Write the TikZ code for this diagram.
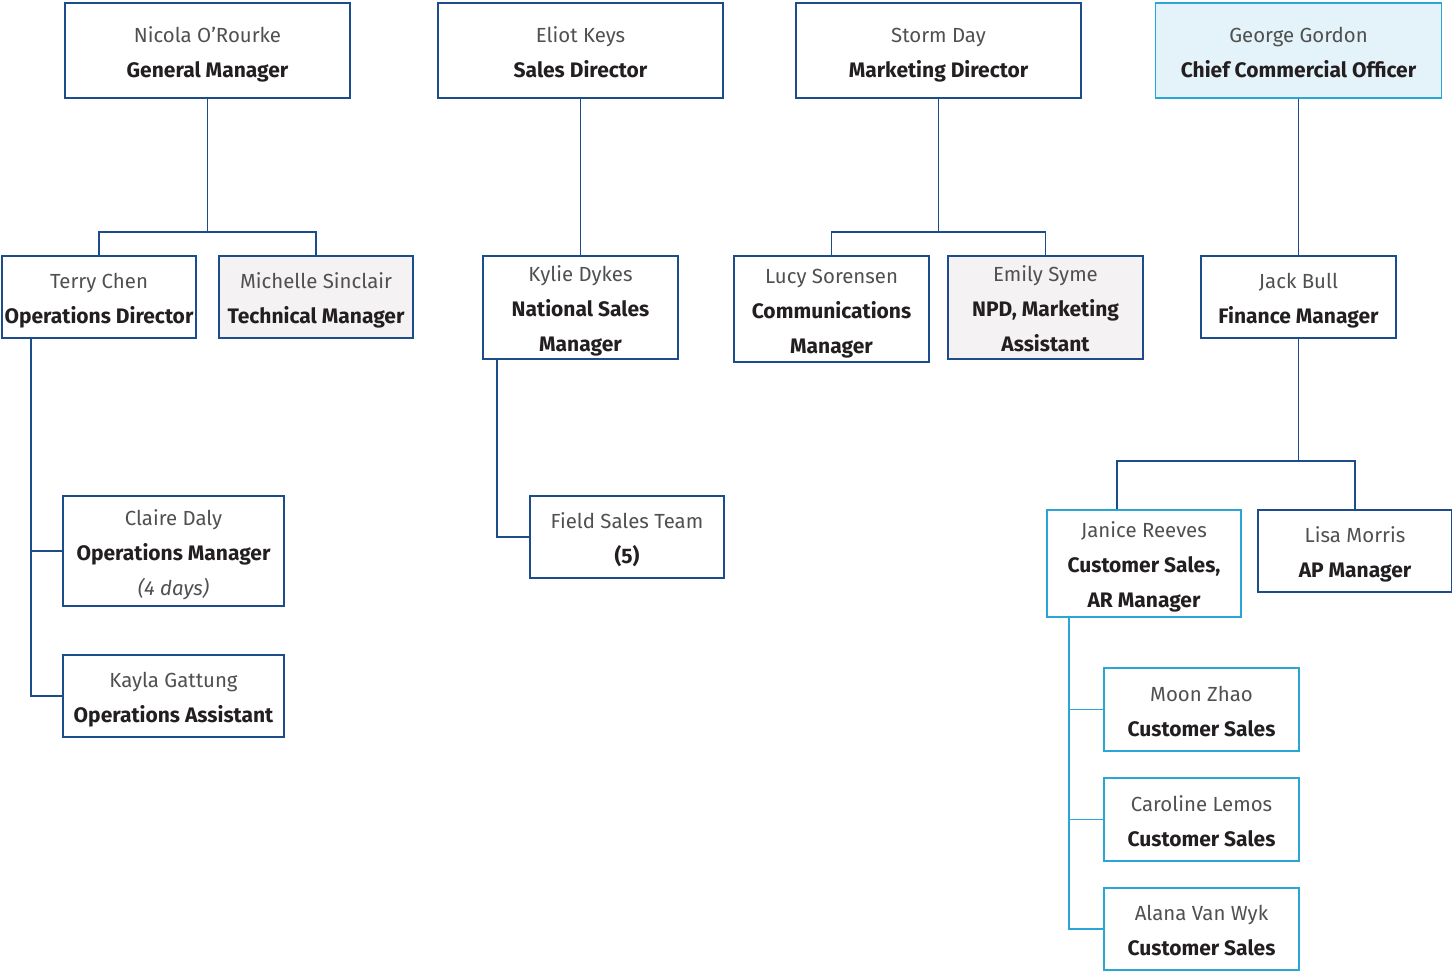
\documentclass[tikz,border=0pt]{standalone}
\usepackage{fontspec}
\setmainfont{Fira Sans}
\usetikzlibrary{positioning,calc}
\definecolor{orgblue}{RGB}{28,76,138}
\definecolor{orgcyan}{RGB}{42,166,214}
\definecolor{ccofill}{RGB}{228,242,249}
\definecolor{greyfill}{RGB}{244,242,243}
\definecolor{namegrey}{RGB}{80,80,80}
\definecolor{jobblack}{RGB}{35,31,32}
\newcommand\who[1]{\rule{0pt}{14.6pt}#1}
\newcommand\job[1]{\textbf{\textcolor{jobblack}{\fontsize{10.5}{17.5}\selectfont\strut #1}}}
\tikzstyle{box} = [rectangle, draw=orgblue, fill=white, line width=0.8pt, inner xsep=0pt, inner ysep=-2pt, align=center, text=namegrey, font=\fontsize{10.2}{17.5}\selectfont]
\tikzstyle{cyanbox} = [box, draw=orgcyan]
\tikzstyle{link} = [draw=orgblue, line width=0.8pt]
\tikzstyle{cyanlink} = [link, draw=orgcyan]

\begin{document}
\begin{tikzpicture}[x=0.5pt,y=-0.5pt]
\useasboundingbox (0,0) rectangle (1452,971);
% top row
\node (gm) at (207.5,50.5) [box, minimum width=142.5pt, minimum height=47.5pt] {\who{Nicola O'Rourke}\\ \job{General Manager}};
\node (sd) at (580.5,50.5) [box, minimum width=142.5pt, minimum height=47.5pt] {\who{Eliot Keys}\\ \job{Sales Director}};
\node (md) at (938.5,50.5) [box, minimum width=142.5pt, minimum height=47.5pt] {\who{Storm Day}\\ \job{Marketing Director}};
\node (cco) at (1298.5,50.5) [cyanbox, fill=ccofill, minimum width=143pt, minimum height=47.5pt] {\who{George Gordon}\\ \job{Chief Commercial Officer}};
% second row
\node (opd) at (99,297) [box, minimum width=97pt, minimum height=41pt] {\who{Terry Chen}\\ \job{Operations Director}};
\node (tm) at (316,297) [box, fill=greyfill, minimum width=97pt, minimum height=41pt] {\who{Michelle Sinclair}\\ \job{Technical Manager}};
\node (nsm) at (580.5,307.5) [box, minimum width=97.5pt, minimum height=51.5pt] {\who{Kylie Dykes}\\ \job{National Sales}\\ \job{Manager}};
\node (cm) at (831.5,309) [box, minimum width=97.5pt, minimum height=53pt] {\who{Lucy Sorensen}\\ \job{Communications}\\ \job{Manager}};
\node (npd) at (1045.5,307.5) [box, fill=greyfill, minimum width=97.5pt, minimum height=51.5pt] {\who{Emily Syme}\\ \job{NPD, Marketing}\\ \job{Assistant}};
\node (fm) at (1298.5,297) [box, minimum width=97.5pt, minimum height=41pt] {\who{Jack Bull}\\ \job{Finance Manager}};
% third row
\node (om) at (173.5,551) [box, minimum width=110.5pt, minimum height=55pt] {\who{Claire Daly}\\ \job{Operations Manager}\\ \textit{\strut(4 days)}};
\node (oa) at (173.5,696) [box, minimum width=110.5pt, minimum height=41pt] {\who{Kayla Gattung}\\ \job{Operations Assistant}};
\node (fst) at (627,537) [box, minimum width=97pt, minimum height=41pt] {\who{Field Sales Team}\\ \job{(5)}};
\node (csm) at (1144,563.5) [cyanbox, minimum width=97pt, minimum height=53.5pt] {\who{Janice Reeves}\\ \job{Customer Sales,}\\ \job{AR Manager}};
\node (apm) at (1355,551) [box, minimum width=97pt, minimum height=41pt] {\who{Lisa Morris}\\ \job{AP Manager}};
\node (cs1) at (1201.5,709.5) [cyanbox, minimum width=97.5pt, minimum height=41.5pt] {\who{Moon Zhao}\\ \job{Customer Sales}};
\node (cs2) at (1201.5,819.5) [cyanbox, minimum width=97.5pt, minimum height=41.5pt] {\who{Caroline Lemos}\\ \job{Customer Sales}};
\node (cs3) at (1201.5,929) [cyanbox, minimum width=97.5pt, minimum height=41pt] {\who{Alana Van Wyk}\\ \job{Customer Sales}};
% connectors
\coordinate (gmj) at (207.5,232);
\coordinate (mdj) at (938.5,232);
\coordinate (fmj) at (1298.5,461);
\draw[link] (gm.south) -- (gmj) -| (opd.north);
\draw[link] (gmj) -| (tm.north);
\draw[link] (sd.south) -- (nsm.north);
\draw[link] (md.south) -- (mdj) -| (cm.north);
\draw[link] (mdj) -| (npd.north);
\draw[link] (cco.south) -- (fm.north);
\draw[link] ([xshift=15pt]opd.south west) |- (om.west);
\draw[link] ([xshift=15pt]opd.south west) |- (oa.west);
\draw[link] ([xshift=7.5pt]nsm.south west) |- (fst.west);
\draw[link] (fm.south) -- (fmj) -| ([xshift=-13.5pt]csm.north);
\draw[link] (fmj) -| (apm.north);
\draw[cyanlink] ([xshift=11.5pt]csm.south west) |- (cs1.west);
\draw[cyanlink] ([xshift=11.5pt]csm.south west) |- (cs2.west);
\draw[cyanlink] ([xshift=11.5pt]csm.south west) |- (cs3.west);
\end{tikzpicture}
\end{document}
